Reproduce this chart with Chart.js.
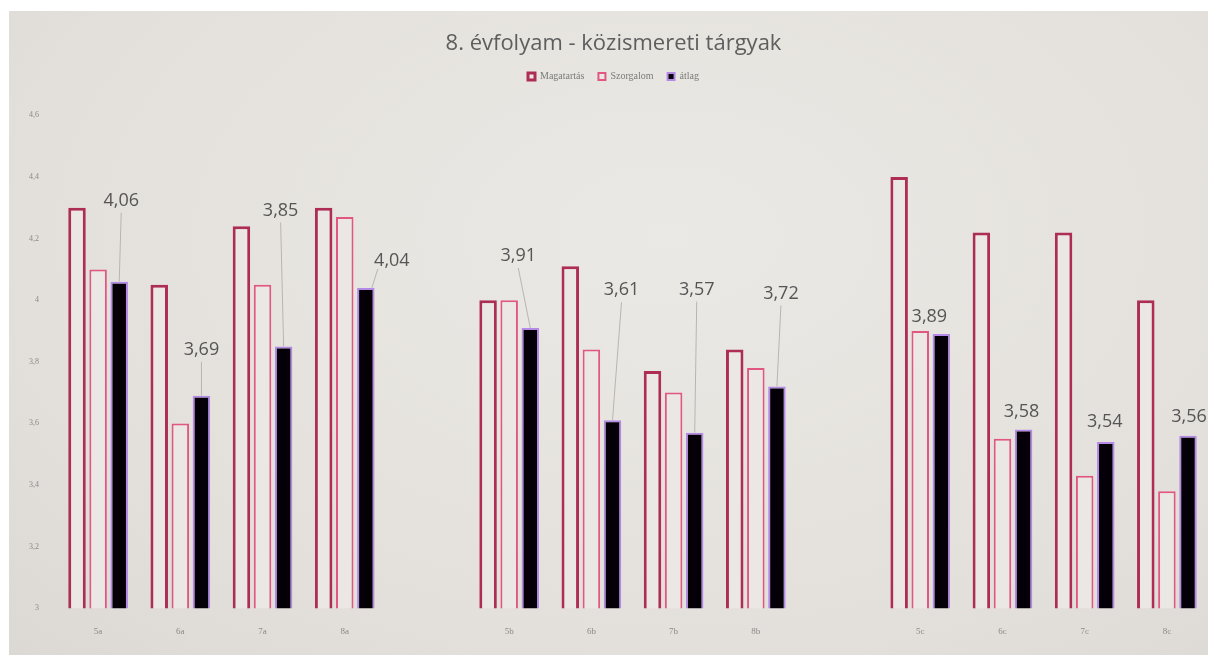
<!DOCTYPE html>
<html>
<head>
<meta charset="utf-8">
<script src="https://cdn.jsdelivr.net/npm/chart.js@4/dist/chart.umd.min.js"></script>
<style>
  body { margin: 0; background: #ffffff; overflow: hidden; }
  #wrap {
    position: absolute; left: 9px; top: 11px; width: 1199px; height: 644px;
    background: radial-gradient(ellipse at 55% 35%, #ebe9e5 0%, #e3e0db 70%, #dcd9d4 100%);
  }
</style>
</head>
<body>
<div id="wrap"><canvas id="chart"></canvas></div>
<script>
// Categories (empty entries = gap between a, b, c classes)
const classes = ['5a', '6a', '7a', '8a', '', '5b', '6b', '7b', '8b', '', '5c', '6c', '7c', '8c'];

// Series values
const magatartas = [4.30, 4.05, 4.24, 4.30, null, 4.00, 4.11, 3.77, 3.84, null, 4.40, 4.22, 4.22, 4.00];
const szorgalom  = [4.10, 3.60, 4.05, 4.27, null, 4.00, 3.84, 3.70, 3.78, null, 3.90, 3.55, 3.43, 3.38];
const atlag      = [4.06, 3.69, 3.85, 4.04, null, 3.91, 3.61, 3.57, 3.72, null, 3.89, 3.58, 3.54, 3.56];

// Y axis
const yMin = 3;
const yMax = 4.6;
const yStep = 0.2;

// Where the "átlag" labels sit relative to their bar top (dx, dy in px)
const labelShift = [[2, -81], [0, -46], [-3, -136], [26, -27], null,
                    [-12, -72], [9, -130], [2, -143], [4, -93], null,
                    [-12, -17], [-2, -18], [-1, -20], [1, -19]];

function huNum(v) {
    return String(Math.round(v * 100) / 100).replace('.', ',');
}

// Extra space under the legend
const legendGap = {
    id: 'legendGap',
    beforeInit(chart) {
        const fit = chart.legend.fit;
        chart.legend.fit = function () {
            fit.bind(chart.legend)();
            this.height += 24;
        };
    }
};

// Draw the value labels of the average series, with a leader line when far from the bar
const avgLabels = {
    id: 'avgLabels',
    afterDatasetsDraw(chart) {
        const ctx = chart.ctx;
        const meta = chart.getDatasetMeta(2);
        ctx.save();
        ctx.font = '18px "Open Sans", sans-serif';
        ctx.textAlign = 'center';
        ctx.textBaseline = 'middle';
        meta.data.forEach((bar, i) => {
            if (atlag[i] == null || !labelShift[i]) return;
            const [dx, dy] = labelShift[i];
            const lx = bar.x + dx;
            const ly = bar.y + dy;
            if (dy < -30 || Math.abs(dx) > 15) {
                ctx.strokeStyle = '#b8b5b0';
                ctx.lineWidth = 1;
                ctx.beginPath();
                if (Math.abs(dx) > 15 && dy > -30) {
                    ctx.moveTo(lx - 14, ly + 8);
                    ctx.lineTo(bar.x + 6, bar.y);
                } else {
                    ctx.moveTo(lx, ly + 12);
                    ctx.lineTo(bar.x, bar.y);
                }
                ctx.stroke();
            }
            ctx.fillStyle = '#555555';
            ctx.fillText(huNum(atlag[i]), lx, ly);
        });
        ctx.restore();
    }
};

const ctx = document.getElementById('chart').getContext('2d');
new Chart(ctx, {
    type: 'bar',
    data: {
        labels: classes,
        datasets: [{
            label: 'Magatartás',
            data: magatartas,
            backgroundColor: '#ebe7e5',
            borderColor: '#ad2d55',
            borderWidth: 3,
            borderSkipped: false
        }, {
            label: 'Szorgalom',
            data: szorgalom,
            backgroundColor: '#ebe7e5',
            borderColor: '#e2577f',
            borderWidth: 2,
            borderSkipped: false
        }, {
            label: 'átlag',
            data: atlag,
            backgroundColor: '#050008',
            borderColor: '#b48ae6',
            borderWidth: 2,
            borderSkipped: false
        }]
    },
    options: {
        responsive: true,
        maintainAspectRatio: false,
        animation: false,
        datasets: {
            bar: { categoryPercentage: 0.77, barPercentage: 0.83 }
        },
        layout: { padding: { left: 10, right: 0, top: 16, bottom: 8 } },
        plugins: {
            title: {
                display: true,
                text: '8. évfolyam - közismereti tárgyak',
                color: '#5e5e5e',
                font: { family: '"Open Sans", sans-serif', size: 22, weight: 'normal' },
                padding: { top: 4, bottom: 0 }
            },
            legend: {
                display: true,
                labels: {
                    color: '#7a7a7a',
                    boxWidth: 7,
                    boxHeight: 7,
                    padding: 14,
                    font: { family: '"Liberation Serif", serif', size: 10 }
                }
            },
            tooltip: { enabled: false }
        },
        scales: {
            x: {
                grid: { display: false },
                border: { display: false },
                ticks: {
                    color: '#8a8a8a',
                    font: { family: '"Liberation Serif", serif', size: 9 },
                    padding: 10
                }
            },
            y: {
                min: yMin,
                max: yMax,
                grid: { display: false },
                border: { display: false },
                ticks: {
                    stepSize: yStep,
                    color: '#8a8a8a',
                    padding: 10,
                    font: { family: '"Liberation Serif", serif', size: 8 },
                    callback: v => huNum(v)
                }
            }
        }
    },
    plugins: [legendGap, avgLabels]
});
</script>
</body>
</html>
